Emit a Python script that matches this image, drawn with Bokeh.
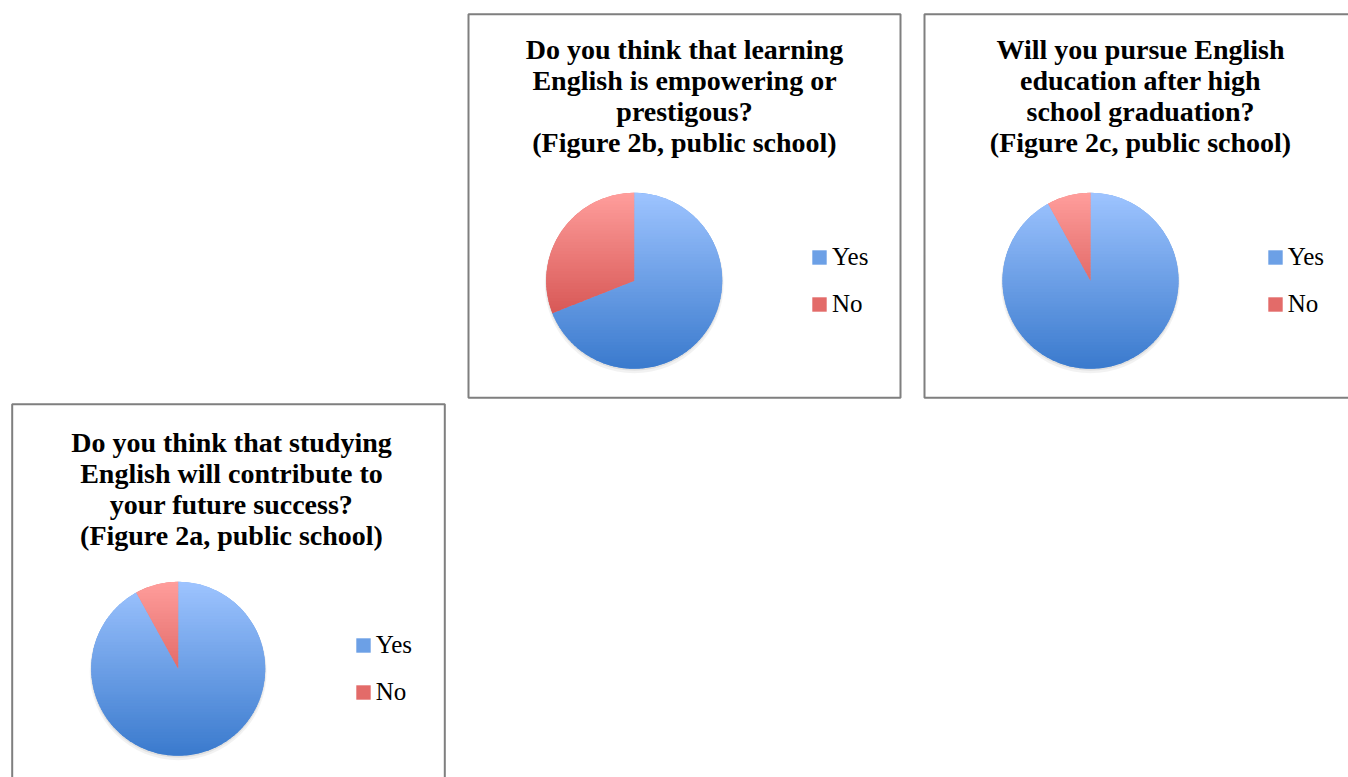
import numpy as np
from bokeh.plotting import figure
from bokeh.models import Range1d, BoxAnnotation, Label, Legend, LegendItem, ColumnDataSource
from bokeh.embed import file_html
from bokeh.resources import INLINE

# ---------------- data ----------------
figure_ids = ["2a", "2b", "2c"]
titles = [
    "Do you think that studying\nEnglish will contribute to\nyour future success?\n(Figure 2a, public school)",
    "Do you think that learning\nEnglish is empowering or\nprestigous?\n(Figure 2b, public school)",
    "Will you pursue English\neducation after high\nschool graduation?\n(Figure 2c, public school)",
]
categories = ["Yes", "No"]
yes_values = [92, 69, 92]
no_values = [8, 31, 8]

# ---------------- styling ----------------
W, H = 1348, 777
TOP_RGB = {"Yes": (158, 196, 255), "No": (255, 158, 156)}
BOT_RGB = {"Yes": (58, 122, 205), "No": (198, 56, 54)}
MID_HEX = {"Yes": "#6ca0e6", "No": "#e36b69"}


def X(px):
    return px


def Y(py):
    return H - py


# panel layout in page pixels
panels = {
    "2a": dict(box=(11.7, 444.3, 403.7, 800), center=(177.7, 668.3), r=87,
               title=(231, 426), legend=(353.7, 706.5)),
    "2b": dict(box=(468, 900, 13.7, 397.3), center=(633.7, 280.3), r=88,
               title=(684, 33), legend=(810, 318.8)),
    "2c": dict(box=(924, 1357, 13.7, 397.3), center=(1090, 280.3), r=88,
               title=(1140, 33), legend=(1265.7, 318.8)),
}

p = figure(width=W, height=H, x_range=Range1d(0, W), y_range=Range1d(0, H),
           output_backend="svg", toolbar_location=None,
           x_axis_location=None, y_axis_location=None, min_border=0)
p.grid.visible = False
p.outline_line_color = None
p.background_fill_color = "white"
p.border_fill_color = "white"


def lerp_hex(c0, c1, t):
    t = min(max(t, 0.0), 1.0)
    c = [int(round(a + (b - a) * t)) for a, b in zip(c0, c1)]
    return "#%02x%02x%02x" % tuple(c)


def clip_half(poly, y0, keep_above):
    out = []
    n = len(poly)
    for i in range(n):
        cur = poly[i]
        prev = poly[i - 1]
        cin = cur[1] >= y0 if keep_above else cur[1] <= y0
        pin = prev[1] >= y0 if keep_above else prev[1] <= y0
        if cin:
            if not pin:
                t = (y0 - prev[1]) / (cur[1] - prev[1])
                out.append((prev[0] + t * (cur[0] - prev[0]), y0))
            out.append(cur)
        elif pin:
            t = (y0 - prev[1]) / (cur[1] - prev[1])
            out.append((prev[0] + t * (cur[0] - prev[0]), y0))
    return out


for k, fid in enumerate(figure_ids):
    cfg = panels[fid]
    l, r_, t, b = cfg["box"]
    p.add_layout(BoxAnnotation(left=X(l), right=X(r_), top=Y(t), bottom=Y(b),
                               fill_alpha=0, line_color="#7f7f7f", line_alpha=1.0,
                               line_width=2))

    cx, cy = X(cfg["center"][0]), Y(cfg["center"][1])
    rad = cfg["r"]

    # soft shadow
    p.circle(x=[cx], y=[cy - 3], radius=rad + 1.5, fill_color="black", fill_alpha=0.05, line_color=None)
    p.circle(x=[cx], y=[cy - 1.5], radius=rad + 0.5, fill_color="black", fill_alpha=0.07, line_color=None)

    vals = [yes_values[k], no_values[k]]
    total = float(sum(vals))
    cum = np.concatenate([[0.0], np.cumsum(vals) / total])
    starts = [np.pi / 2 - 2 * np.pi * cum[i] for i in range(len(vals))]
    ends = [np.pi / 2 - 2 * np.pi * cum[i + 1] for i in range(len(vals))]
    src = ColumnDataSource(dict(x=[cx] * 2, y=[cy] * 2, start=starts, end=ends,
                                cat=categories, value=vals,
                                color=[MID_HEX[c] for c in categories]))
    wr = p.wedge(x="x", y="y", radius=rad, start_angle="start", end_angle="end",
                 direction="clock", fill_color="color", line_color=None, source=src)

    # vertical gradient overlay, clipped to each slice
    nb = 60
    edges = np.linspace(cy + rad, cy - rad, nb + 1)
    xs, ys, cols = [], [], []
    for i, cat in enumerate(categories):
        angs = np.linspace(starts[i], ends[i], 240)
        poly = [(cx, cy)] + [(cx + rad * np.cos(a), cy + rad * np.sin(a)) for a in angs]
        for j in range(nb):
            ytop, ybot = edges[j] + 0.4, edges[j + 1] - 0.4
            piece = clip_half(poly, ybot, True)
            if len(piece) < 3:
                continue
            piece = clip_half(piece, ytop, False)
            if len(piece) < 3:
                continue
            xs.append([q[0] for q in piece])
            ys.append([q[1] for q in piece])
            tm = (j + 0.5) / nb
            cols.append(lerp_hex(TOP_RGB[cat], BOT_RGB[cat], tm))
    p.patches(xs=xs, ys=ys, fill_color=cols, line_color=None)

    # title
    tx, ty = cfg["title"]
    p.add_layout(Label(x=X(tx), y=Y(ty), text=titles[k], text_align="center",
                       text_baseline="top", text_font="Liberation Serif",
                       text_font_style="bold", text_font_size="28px",
                       text_line_height=1.01, text_color="#000000"))

    # legend (location = bottom-left corner, measured from the frame's bottom-left)
    lx, ly = cfg["legend"]
    items = [LegendItem(label=c, renderers=[wr], index=i) for i, c in enumerate(categories)]
    leg = Legend(items=items, location=(X(lx), Y(ly)),
                 glyph_width=18, glyph_height=18, label_height=30, spacing=17,
                 label_standoff=4, padding=0, margin=0,
                 border_line_color=None, background_fill_alpha=0,
                 label_text_font="Liberation Serif", label_text_font_size="25px",
                 label_text_color="#000000")
    p.add_layout(leg)

open("out.html", "w").write(file_html(p, INLINE))
